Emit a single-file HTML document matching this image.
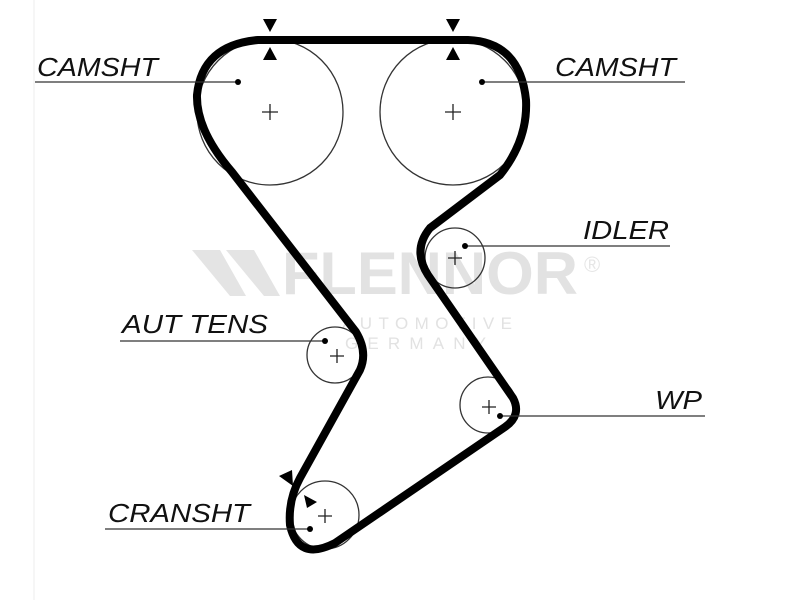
<!DOCTYPE html>
<html><head><style>
html,body{margin:0;padding:0;background:#fff;}
svg{display:block;}
text.l{font-family:"Liberation Sans",sans-serif;font-style:italic;font-size:26px;fill:#111;}
</style></head><body>
<svg width="800" height="600" viewBox="0 0 800 600">
<line x1="34" y1="0" x2="34" y2="600" stroke="#eee" stroke-width="1"/>
<g fill="#e4e4e4">
<polygon points="192,250 220,250 246,296 230,296"/>
<polygon points="226,250 254,250 280,296 264,296"/>
<text x="282" y="294" font-family="Liberation Sans,sans-serif" font-weight="bold" font-size="60" textLength="296" lengthAdjust="spacingAndGlyphs" fill="#e2e2e2">FLENNOR</text>
<text x="584" y="272" font-family="Liberation Sans,sans-serif" font-size="22" fill="#e6e6e6">®</text>
<text x="342" y="329" font-family="Liberation Sans,sans-serif" font-size="17" textLength="174" letter-spacing="4" fill="#e2e2e2">AUTOMOTIVE</text>
<text x="345" y="349" font-family="Liberation Sans,sans-serif" font-size="17" textLength="145" letter-spacing="4" fill="#e2e2e2">GERMANY</text>
</g>
<g fill="none" stroke="#333" stroke-width="1.3">
<circle cx="270" cy="112" r="73"/>
<circle cx="453" cy="112" r="73"/>
<circle cx="455" cy="258" r="30"/>
<circle cx="335" cy="355" r="28"/>
<circle cx="488" cy="405" r="28"/>
<circle cx="325" cy="515" r="34"/>
</g>
<g stroke="#222" stroke-width="1.3">
<path d="M262 112h16M270 104v16"/><path d="M445 112h16M453 104v16"/>
<path d="M448 258h14M455 251v14"/><path d="M330 356h14M337 349v14"/>
<path d="M482 407h14M489 400v14"/><path d="M318 516h14M325 509v14"/>
</g>
<path d="M258 40 L468 40 Q520 42 526 100 Q528 140 500 175 L430 228 Q412 250 428 275 L513 398 Q522 415 505 427 L335 543 Q298 562 290 525 Q288 500 300 478 L360 370 Q368 352 356 332 L232 172 Q196 130 197 95 Q202 45 258 40 Z" fill="none" stroke="#000" stroke-width="8" stroke-linejoin="round"/>
<g fill="#000">
<polygon points="263,19 277,19 270,32"/><polygon points="263,60 277,60 270,47"/>
<polygon points="446,19 460,19 453,32"/><polygon points="446,60 460,60 453,47"/>
<polygon points="279,476 292,470 293,486"/>
<polygon points="304,495 317,502 307,508"/>
</g>
<g stroke="#333" stroke-width="1.3">
<line x1="35" y1="82" x2="238" y2="82"/>
<line x1="482" y1="82" x2="685" y2="82"/>
<line x1="465" y1="246" x2="670" y2="246"/>
<line x1="120" y1="341" x2="325" y2="341"/>
<line x1="500" y1="416" x2="705" y2="416"/>
<line x1="105" y1="529" x2="310" y2="529"/>
</g>
<g fill="#000">
<circle cx="238" cy="82" r="3"/><circle cx="482" cy="82" r="3"/>
<circle cx="465" cy="246" r="3"/><circle cx="325" cy="341" r="3"/>
<circle cx="500" cy="416" r="3"/><circle cx="310" cy="529" r="3"/>
</g>
<text class="l" x="37" y="76" textLength="121" lengthAdjust="spacingAndGlyphs">CAMSHT</text>
<text class="l" x="555" y="76" textLength="121" lengthAdjust="spacingAndGlyphs">CAMSHT</text>
<text class="l" x="583" y="239" textLength="86" lengthAdjust="spacingAndGlyphs">IDLER</text>
<text class="l" x="122" y="333" textLength="146" lengthAdjust="spacingAndGlyphs">AUT TENS</text>
<text class="l" x="655" y="409" textLength="47" lengthAdjust="spacingAndGlyphs">WP</text>
<text class="l" x="108" y="522" textLength="142" lengthAdjust="spacingAndGlyphs">CRANSHT</text>
</svg>
</body></html>
